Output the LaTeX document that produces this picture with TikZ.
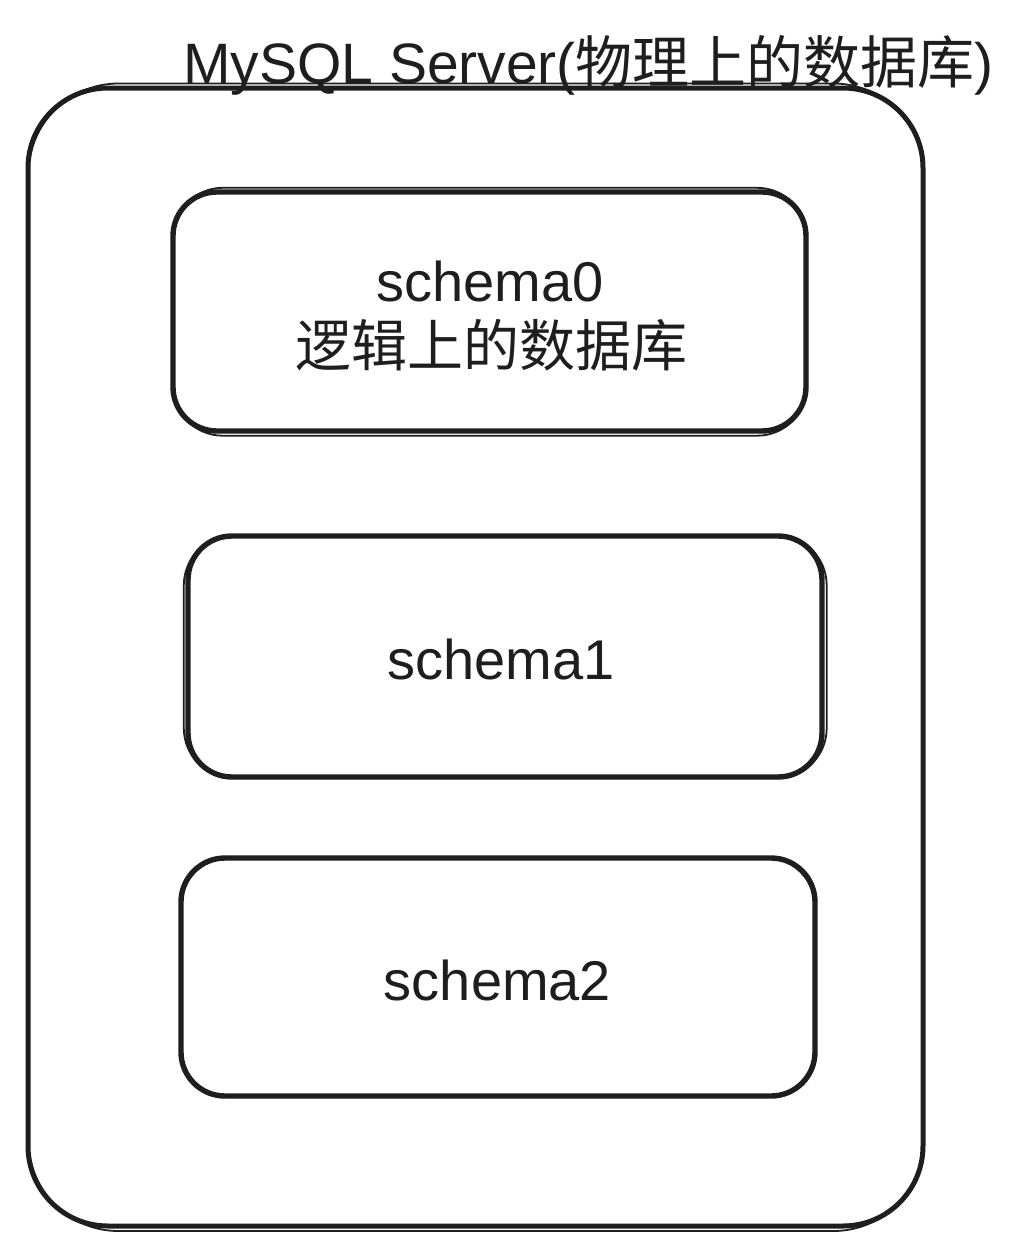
\documentclass[tikz,border=0pt]{standalone}
\usepackage{fontspec}
\setmainfont{Liberation Sans}
\newfontfamily\cjk{Noto Sans CJK SC}
\usetikzlibrary{calc}
\definecolor{ink}{HTML}{1E1E1E}
\tikzset{
  outerbox/.style={draw=ink, line width=5pt, rounded corners=80pt, inner sep=0pt},
  schemabox/.style={draw=ink, line width=5.4pt, rounded corners=44pt, inner sep=0pt},
  sketchline/.style={draw=ink, line width=1.8pt},
  label/.style={anchor=base, inner sep=0pt, text=ink, font=\fontsize{56}{66}\selectfont},
  titletext/.style={anchor=base west, inner sep=0pt, text=ink, font=\fontsize{57}{68}\selectfont}
}
\begin{document}
\begin{tikzpicture}[x=1pt,y=-1pt]
\useasboundingbox (0,0) rectangle (1024,1253);
\fill[white] (0,0) rectangle (1024,1253);
% outer server box
\node[outerbox, minimum width=895pt, minimum height=1138pt] (server) at (475.5,657) {};
\draw[sketchline, rounded corners=90pt] ($(server.north west)+(3,-2)$) rectangle ($(server.south east)+(-2,2.5)$);
\node[titletext] (title) at (183,83) {MySQL Server({\cjk 物理上的数据库})};
% schema boxes
\node[schemabox, minimum width=633pt, minimum height=239pt] (s0) at (489.5,311.5) {};
\draw[sketchline, rounded corners=50pt] ($(s0.north west)+(2.5,-1.5)$) rectangle ($(s0.south east)+(-1.5,2)$);
\node[schemabox, minimum width=634pt, minimum height=241pt] (s1) at (505,656.5) {};
\draw[sketchline, rounded corners=50pt] ($(s1.north west)+(-1.5,2)$) rectangle ($(s1.south east)+(2,-1.5)$);
\node[schemabox, minimum width=634pt, minimum height=238pt] (s2) at (498,977) {};
\draw[sketchline, rounded corners=50pt] ($(s2.north west)+(2,2)$) rectangle ($(s2.south east)+(-2.5,-1.5)$);
% labels
\node[label] (l0a) at (490,301) {schema0};
\node[label] (l0b) at (491,366) {\cjk 逻辑上的数据库};
\node[label] (l1) at (501,679) {schema1};
\node[label] (l2) at (497.5,1000) {schema2};
\end{tikzpicture}
\end{document}
